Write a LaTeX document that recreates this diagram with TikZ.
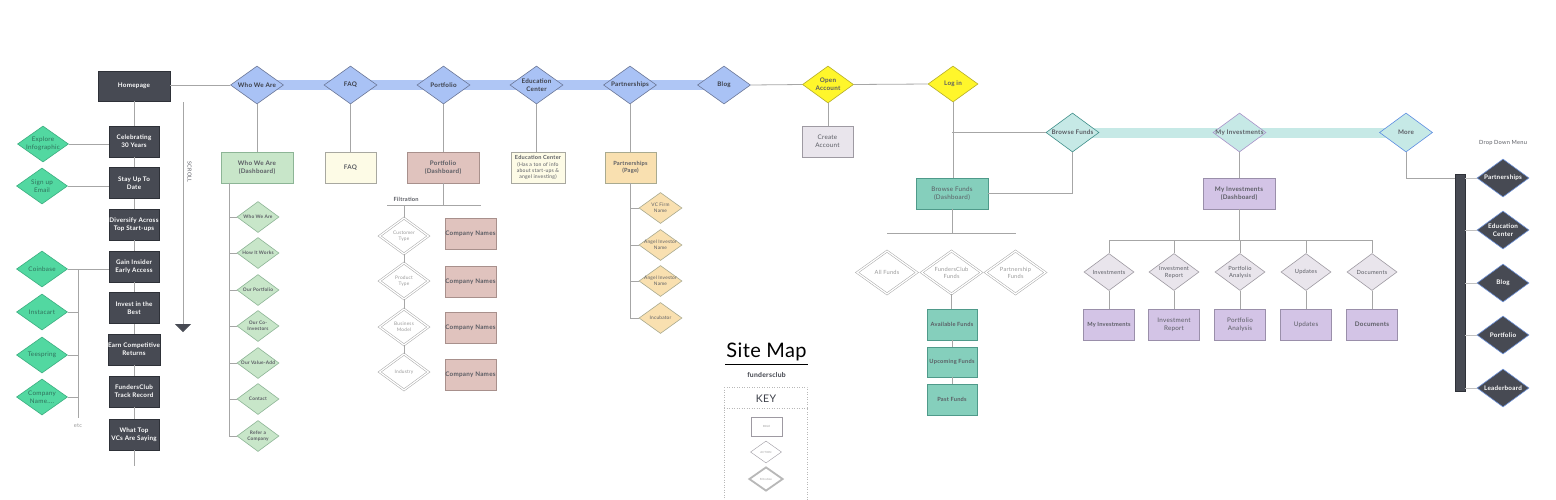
\documentclass[tikz,border=0pt]{standalone}
\usepackage{fontspec}
\setmainfont{Lato}[LetterSpace=4]
\usetikzlibrary{shapes.geometric,arrows.meta,backgrounds}
\definecolor{darkf}{HTML}{474A53}
\definecolor{darkb}{HTML}{2E3138}
\definecolor{mint}{HTML}{52D8A1}
\definecolor{mintB}{HTML}{3BAE80}
\definecolor{mintT}{HTML}{2F6F5A}
\definecolor{blueF}{HTML}{A9C2F5}
\definecolor{blueB}{HTML}{6B7797}
\definecolor{bandB}{HTML}{AFC6F5}
\definecolor{lgreen}{HTML}{C8E6C9}
\definecolor{lgreenB}{HTML}{8DB596}
\definecolor{cream}{HTML}{FDFBE6}
\definecolor{creamB}{HTML}{A8A8A0}
\definecolor{pinkF}{HTML}{E0C3BE}
\definecolor{pinkB}{HTML}{A8908C}
\definecolor{peach}{HTML}{F9E0B0}
\definecolor{peachB}{HTML}{A9AA90}
\definecolor{yel}{HTML}{FFF62B}
\definecolor{yelB}{HTML}{B5AD2A}
\definecolor{grayL}{HTML}{E9E5EC}
\definecolor{grayB}{HTML}{9E9AA2}
\definecolor{tealF}{HTML}{85CFBC}
\definecolor{tealB}{HTML}{4F9A8A}
\definecolor{tealL}{HTML}{C6E9E6}
\definecolor{tealLB}{HTML}{3F8F8A}
\definecolor{purpF}{HTML}{D3C4E6}
\definecolor{purpB}{HTML}{9A8FAA}
\definecolor{purpD}{HTML}{A993C9}
\definecolor{moreB}{HTML}{5C8CE2}
\definecolor{ddB}{HTML}{6F93DA}
\definecolor{lineg}{HTML}{A6A6A6}
\definecolor{txtD}{HTML}{3C3F48}
\definecolor{txtM}{HTML}{5A5C63}
\definecolor{txtL}{HTML}{9A9A9A}
\newcommand\fsA{\fontsize{6.3}{7.8}\selectfont}
\newcommand\fsB{\fontsize{5.7}{7.1}\selectfont}
\newcommand\fsC{\fontsize{4.8}{6.0}\selectfont}
\newcommand\fsD{\fontsize{2.8}{3.4}\selectfont}
\tikzset{
  conn/.style={draw=lineg, line width=0.8pt},
  lbl/.style={align=center, inner sep=0pt},
  box/.style={rectangle, inner sep=0pt, align=center, line width=0.6pt, minimum height=31pt},
  dbox/.style={box, fill=darkf, draw=darkb, minimum width=50pt, text=white, font=\fsA\bfseries},
  greenbox/.style={box, fill=lgreen, draw=lgreenB, minimum width=72pt, text=txtM, font=\fsA\bfseries},
  creambox/.style={box, fill=cream, draw=creamB, text=txtM, font=\fsA\bfseries},
  pinkbox/.style={box, fill=pinkF, draw=pinkB, text=txtM, font=\fsA\bfseries},
  peachbox/.style={box, fill=peach, draw=peachB, minimum width=51pt, text=txtM, font=\fsB\bfseries},
  graybox/.style={box, fill=grayL, draw=grayB, minimum width=51pt, text=txtM, font=\fsA},
  tealbox/.style={box, fill=tealF, draw=tealB, text=txtM, font=\fsA},
  purpbox/.style={box, fill=purpF, draw=purpB, text=txtM, font=\fsA},
  dia/.style={diamond, inner sep=0pt, line width=0.6pt},
  bdia/.style={dia, fill=blueF, draw=blueB, minimum width=53pt, minimum height=38pt,
    label={[lbl, text=txtD, font=\fsA\bfseries]center:#1}},
  ydia/.style={dia, fill=yel, draw=yelB, minimum width=51pt, minimum height=37pt,
    label={[lbl, text=txtM, font=\fsA\bfseries]center:#1}},
  mdia/.style={dia, fill=mint, draw=mintB, minimum width=51pt, minimum height=36pt,
    label={[lbl, text=mintT, font=\fsA]center:#1}},
  sgdia/.style={dia, fill=lgreen, draw=lgreenB, minimum width=42pt, minimum height=31pt,
    label={[lbl, text=txtM, font=\fsC\bfseries]center:#1}},
  pdia/.style={dia, fill=peach, draw=peachB, minimum width=43pt, minimum height=31pt,
    label={[lbl, text=txtM, font=\fsC]center:#1}},
  fdia/.style={dia, draw=lineg, double=white, double distance=1.3pt, line width=0.5pt,
    minimum width=49pt, minimum height=36pt,
    label={[lbl, text=txtL, font=\fsC]center:#1}},
  ffdia/.style={dia, draw=lineg, double=white, double distance=1.3pt, line width=0.5pt,
    minimum width=60pt, minimum height=43pt,
    label={[lbl, text=txtL, font=\fsB]center:#1}},
  tdia/.style={dia, fill=tealL, draw=tealLB, minimum width=53pt, minimum height=39pt,
    label={[lbl, text=txtM, font=\fsA\bfseries]center:#1}},
  gydia/.style={dia, fill=grayL, draw=grayB, minimum width=50pt, minimum height=37pt,
    label={[lbl, text=txtM, font=\fsB]center:#1}},
  kdia/.style={dia, fill=darkf, draw=ddB, minimum width=52pt, minimum height=38pt,
    label={[lbl, text=white, font=\fsA\bfseries]center:#1}},
}
\begin{document}
\begin{tikzpicture}[x=1pt,y=-1pt]
\useasboundingbox (0,0) rectangle (1556,499);
\begin{scope}[on background layer]
  \fill[white] (0,0) rectangle (1556,499);
\end{scope}

% ---------------- Homepage column
\node[dbox, minimum width=72pt, minimum height=30pt] (home) at (134,86) {Homepage};
\node[dbox] (c1) at (134,141.5) {Celebrating\\30 Years};
\node[dbox] (c2) at (134,183) {Stay Up To\\Date};
\node[dbox] (c3) at (134,224.5) {Diversify Across\\Top Start-ups};
\node[dbox] (c4) at (134,266.5) {Gain Insider\\Early Access};
\node[dbox] (c5) at (134,308) {Invest in the\\Best};
\node[dbox] (c6) at (134,349.5) {Earn Competitive\\Returns};
\node[dbox] (c7) at (134,391.5) {FundersClub\\Track Record};
\node[dbox] (c8) at (134,434.5) {What Top\\VCs Are Saying};
\coordinate (colend) at (134,466);
\draw[conn] (home) -- (c1) -- (c2) -- (c3) -- (c4) -- (c5) -- (c6) -- (c7) -- (c8) -- (colend);

\node[mdia={Explore\\Infographic}] (e1) at (43,144) {};
\node[mdia={Sign up\\Email}] (e2) at (42,186) {};
\node[mdia={Coinbase}] (e3) at (42,269) {};
\node[mdia={Instacart}] (e4) at (42,312) {};
\node[mdia={Teespring}] (e5) at (42,355) {};
\node[mdia={Company\\Name....}] (e6) at (42,397) {};
\draw[conn] (e1.east) -- (e1.east -| c1.west);
\draw[conn] (e2.east) -- (e2.east -| c2.west);
\draw[conn] (e3.east) -- (e3.east -| c4.west);
\coordinate (bt) at (78,269);
\coordinate (bb) at (78,418);
\draw[conn] (bt) -- (bb);
\draw[conn] (e4.east) -- (e4.east -| bt);
\draw[conn] (e5.east) -- (e5.east -| bt);
\draw[conn] (e6.east) -- (e6.east -| bt);
\node[font=\fsB, text=txtL] (etc) at (78,426) {etc};

% scroll arrow
\coordinate (sc1) at (183,102);
\coordinate (sc2) at (183,332);
\draw[conn, -{Triangle[width=16pt,length=8pt,color=darkf]}] (sc1) -- (sc2);
\node[rotate=-90, font=\fontsize{5.4}{6.4}\selectfont, text=txtM] (scroll) at (189.5,172) {SCROLL};

% ---------------- top navigation
\node[bdia={Who We Are}] (wwa) at (257,85) {};
\node[bdia={FAQ}] (faq) at (350.5,85) {};
\node[bdia={Portfolio}] (port) at (443.5,85) {};
\node[bdia={Education\\Center}] (edu) at (536.5,85) {};
\node[bdia={Partnerships}] (part) at (630,85) {};
\node[bdia={Blog}] (blog) at (724,85) {};
\draw[conn] (home.east |- wwa.west) -- (wwa.west);
\begin{scope}[on background layer]
  \draw[bandB, line width=10pt] (wwa.center) -- (blog.center);
\end{scope}

% dashboards
\node[greenbox] (wwaD) at (257,167.5) {Who We Are\\(Dashboard)};
\node[creambox, minimum width=51pt] (faqD) at (350.5,167.5) {FAQ};
\node[pinkbox, minimum width=72pt] (portD) at (443,167.5) {Portfolio\\(Dashboard)};
\node[creambox, minimum width=54pt, font=\fontsize{5.1}{6.2}\selectfont] (eduD) at (538,167.5) {{\fontsize{5.6}{6.4}\selectfont\bfseries Education Center}\\(Has a ton of info\\about start-ups \&\\angel investing)};
\node[peachbox] (partD) at (630.5,167.5) {Partnerships\\(Page)};
\draw[conn] (wwa.south) -- (wwaD.north);
\draw[conn] (faq.south) -- (faqD.north);
\draw[conn] (port.south) -- (port.south |- portD.north);
\draw[conn] (edu.south) -- (edu.south |- eduD.north);
\draw[conn] (part.south) -- (part.south |- partD.north);

% who we are sub
\coordinate (wbt) at (229,183);
\coordinate (wbb) at (229,436);
\draw[conn] (wbt) -- (wbb);
\node[sgdia={Who We Are}] (w1) at (258,217) {};
\node[sgdia={How It Works}] (w2) at (258,253) {};
\node[sgdia={Our Portfolio}] (w3) at (258,290) {};
\node[sgdia={Our Co-\\Investors}] (w4) at (258,326) {};
\node[sgdia={Our Value-Add}] (w5) at (258,363) {};
\node[sgdia={Contact}] (w6) at (258,399) {};
\node[sgdia={Refer a\\Company}] (w7) at (258,436) {};
\foreach \n in {w1,w2,w3,w4,w5,w6,w7} \draw[conn] (\n.west -| wbt) -- (\n.west);

% portfolio filtration
\coordinate (fl) at (387,205);
\coordinate (fr) at (481,205);
\draw[conn] (portD.south) -- (portD.south |- fl);
\draw[conn] (fl) -- (fr);
\node[anchor=base west, font=\fsB\bfseries, text=txtM] (filt) at (390,201) {Filtration};
\node[fdia={Customer\\Type}] (f1) at (404,236) {};
\node[fdia={Product\\Type}] (f2) at (404,281) {};
\node[fdia={Business\\Model}] (f3) at (404,327) {};
\node[fdia={Industry}] (f4) at (404,372) {};
\draw[conn] (f1.north |- fl) -- (f1.north);
\draw[conn] (f1.south) -- (f2.north);
\draw[conn] (f2.south) -- (f3.north);
\draw[conn] (f3.south) -- (f4.north);
\node[pinkbox, minimum width=51pt] (cn1) at (470.5,234) {Company Names};
\node[pinkbox, minimum width=51pt] (cn2) at (470.5,281.5) {Company Names};
\node[pinkbox, minimum width=51pt] (cn3) at (470.5,327.5) {Company Names};
\node[pinkbox, minimum width=51pt] (cn4) at (470.5,374.5) {Company Names};

% partnerships sub
\coordinate (pbt) at (630,183);
\coordinate (pbb) at (630,318);
\draw[conn] (pbt) -- (pbb);
\node[pdia={VC Firm\\Name}] (p1) at (660.5,208) {};
\node[pdia={Angel Investor\\Name}] (p2) at (660.5,245) {};
\node[pdia={Angel Investor\\Name}] (p3) at (660.5,281) {};
\node[pdia={Incubator}] (p4) at (660.5,318) {};
\foreach \n in {p1,p2,p3,p4} \draw[conn] (\n.west -| pbt) -- (\n.west);

% ---------------- account
\node[ydia={Open\\Account}] (oa) at (828,84.5) {};
\node[ydia={Log in}, minimum width=50pt, minimum height=36pt] (login) at (953,84) {};
\draw[conn] (blog.east) -- (oa.west);
\draw[conn] (oa.east) -- (login.west);
\node[graybox] (ca) at (827.5,141.5) {Create\\Account};
\draw[conn] (oa.south) -- (oa.south |- ca.north);

\node[tealbox, minimum width=72pt] (bfD) at (952,193.5) {Browse Funds\\(Dashboard)};
\draw[conn] (login.south) -- (login.south |- bfD.north);
\node[tdia={Browse Funds}] (bf) at (1072.5,132.5) {};
\node[tdia={My Investments}, draw=purpD] (mi) at (1239.5,132.5) {};
\node[tdia={More}, draw=moreB] (more) at (1406,132.5) {};
\begin{scope}[on background layer]
  \draw[tealL, line width=10pt] (bf.center) -- (more.center);
\end{scope}
\coordinate (lb) at (952,132.5);
\draw[conn] (lb) -- (bf.west);
\draw[conn] (bf.south) |- (bfD.east);

\coordinate (bfl) at (887,233);
\coordinate (bfr) at (1016,233);
\draw[conn] (bfD.south) -- (bfD.south |- bfl);
\draw[conn] (bfl) -- (bfr);
\node[ffdia={All Funds}] (af) at (887,272.5) {};
\node[ffdia={FundersClub\\Funds}] (fcf) at (951.5,272.5) {};
\node[ffdia={Partnership\\Funds}] (pf) at (1015.5,272.5) {};
\node[tealbox, minimum width=50pt, font=\fsB\bfseries] (av) at (952,324.5) {Available Funds};
\node[tealbox, minimum width=50pt, minimum height=30pt, font=\fsB\bfseries] (up) at (952,362) {Upcoming Funds};
\node[tealbox, minimum width=50pt, font=\fsB\bfseries] (past) at (952,399.5) {Past Funds};
\draw[conn] (fcf.south) -- (fcf.south |- av.north);
\draw[conn] (av) -- (up);
\draw[conn] (up) -- (past);

% ---------------- my investments
\node[purpbox, minimum width=72pt, font=\fsA\bfseries] (miD) at (1239,193.5) {My Investments\\(Dashboard)};
\draw[conn] (mi.south) -- (mi.south |- miD.north);
\coordinate (mil) at (1109,240);
\coordinate (mir) at (1373,240);
\draw[conn] (miD.south) -- (miD.south |- mil);
\draw[conn] (mil) -- (mir);
\node[gydia={Investments}] (g1) at (1109,272) {};
\node[gydia={Investment\\Report}] (g2) at (1174,272) {};
\node[gydia={Portfolio\\Analysis}] (g3) at (1240,272) {};
\node[gydia={Updates}] (g4) at (1306,272) {};
\node[gydia={Documents}] (g5) at (1372,272) {};
\node[purpbox, minimum width=51pt, font=\fsB\bfseries] (m1) at (1109,324.5) {My Investments};
\node[purpbox, minimum width=51pt] (m2) at (1174,324.5) {Investment\\Report};
\node[purpbox, minimum width=51pt] (m3) at (1240,324.5) {Portfolio\\Analysis};
\node[purpbox, minimum width=51pt] (m4) at (1306,324.5) {Updates};
\node[purpbox, minimum width=51pt, font=\fsA\bfseries] (m5) at (1372,324.5) {Documents};
\foreach \i in {1,...,5} {
  \draw[conn] (g\i.north |- mil) -- (g\i.north);
  \draw[conn] (g\i.south) -- (g\i.south |- m\i.north);
}

% ---------------- drop down menu
\node[rectangle, inner sep=0pt, fill=darkf, draw=darkb, line width=0.6pt,
      minimum width=10pt, minimum height=217pt] (bar) at (1460,282.5) {};
\node[font=\fsB, text=txtM] (ddm) at (1503,143) {Drop Down Menu};
\node[kdia={Partnerships}] (d1) at (1503,178) {};
\node[kdia={Education\\Center}] (d2) at (1503,230) {};
\node[kdia={Blog}] (d3) at (1503,283) {};
\node[kdia={Portfolio}] (d4) at (1503,335) {};
\node[kdia={Leaderboard}] (d5) at (1503,388) {};
\foreach \i in {1,...,5} \draw[conn, draw=lineg!70] (d\i.west -| bar.east) -- (d\i.west);
\draw[conn] (more.south) |- (bar.west |- d1);

% ---------------- title and key
\node[font=\fontsize{20}{24}\selectfont\addfontfeature{LetterSpace=2}, text=black] (sm) at (766.5,352) {Site Map};
\coordinate (ul1) at (725,364.5);
\coordinate (ul2) at (808,364.5);
\draw[line width=1.3pt, black] (ul1) -- (ul2);
\node[font=\fontsize{6.8}{8}\selectfont\bfseries, text=txtD] (fc) at (766.5,375) {fundersclub};
\coordinate (k1) at (724,387);
\coordinate (k2) at (807,503);
\coordinate (kd1) at (724,408);
\coordinate (kd2) at (807,408);
\draw[draw=lineg!80, dotted, line width=0.5pt] (k1) rectangle (k2);
\draw[draw=lineg!80, dotted, line width=0.5pt] (kd1) -- (kd2);
\node[font=\fontsize{10.5}{12}\selectfont, text=txtD] (key) at (766,399) {KEY};
\node[rectangle, draw=grayB, line width=0.5pt, minimum width=31pt, minimum height=19pt, inner sep=0pt, font=\fsD, text=txtL] (kp) at (766.5,426.5) {PAGE};
\node[dia, draw=grayB, line width=0.4pt, minimum width=31pt, minimum height=22pt,
      label={[lbl, text=txtL, font=\fsD]center:ACTION}] (ka) at (766,452) {};
\node[dia, draw=lineg!80, line width=1.8pt, minimum width=34pt, minimum height=24pt,
      label={[lbl, text=txtL, font=\fsD]center:Filtration}] (kf) at (766,479) {};
\end{tikzpicture}
\end{document}
